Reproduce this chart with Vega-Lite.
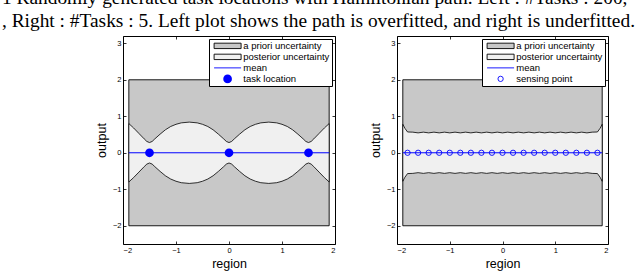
{
  "$schema": "https://vega.github.io/schema/vega-lite/v6.json",
  "padding": {"left": 1, "top": -13, "right": 0, "bottom": 0},
  "background": "white",
  "title": {
    "text": ["1  Randomly generated task locations with Hamiltonian path. Left : #Tasks : 200,", ", Right : #Tasks : 5. Left plot shows the path is overfitted, and right is underfitted."],
    "anchor": "start",
    "frame": "bounds",
    "dx": -93,
    "font": "Liberation Serif",
    "fontSize": 19.4,
    "fontWeight": "normal",
    "color": "black",
    "lineHeight": 23,
    "offset": 4
  },
  "config": {
    "view": {"stroke": "black", "strokeWidth": 1},
    "axis": {
      "grid": false,
      "domain": false,
      "tickColor": "black",
      "tickSize": -3,
      "tickWidth": 0.8,
      "labelFont": "Liberation Sans",
      "labelFontSize": 7.5,
      "labelColor": "black",
      "labelPadding": 5,
      "titleFont": "Liberation Sans",
      "titleFontSize": 12.5,
      "titleFontWeight": "normal",
      "titleColor": "black",
      "titlePadding": 4
    },
    "legend": {
      "title": null,
      "orient": "top-right",
      "offset": 3,
      "padding": 2,
      "fillColor": "white",
      "strokeColor": "black",
      "clipHeight": 9.75,
      "rowPadding": 0,
      "labelFont": "Liberation Sans",
      "labelFontSize": 9.5,
      "labelColor": "black",
      "labelOffset": 1.7,
      "symbolOffset": 2.6,
      "symbolStrokeWidth": 0.9
    }
  },
  "datasets": {
    "priorL": [
      {"x": -1.89, "lo": -2, "hi": 2, "series": "a priori uncertainty"},
      {"x": 1.89, "lo": -2, "hi": 2, "series": "a priori uncertainty"}
    ],
    "postL": [
      {"x": -1.89, "lo": -0.80, "hi": 0.80, "series": "posterior uncertainty"},
      {"x": -1.8, "lo": -0.68, "hi": 0.68, "series": "posterior uncertainty"},
      {"x": -1.7, "lo": -0.53, "hi": 0.53, "series": "posterior uncertainty"},
      {"x": -1.6, "lo": -0.38, "hi": 0.38, "series": "posterior uncertainty"},
      {"x": -1.55, "lo": -0.31, "hi": 0.31, "series": "posterior uncertainty"},
      {"x": -1.5, "lo": -0.28, "hi": 0.28, "series": "posterior uncertainty"},
      {"x": -1.45, "lo": -0.31, "hi": 0.31, "series": "posterior uncertainty"},
      {"x": -1.4, "lo": -0.38, "hi": 0.38, "series": "posterior uncertainty"},
      {"x": -1.3, "lo": -0.51, "hi": 0.51, "series": "posterior uncertainty"},
      {"x": -1.2, "lo": -0.63, "hi": 0.63, "series": "posterior uncertainty"},
      {"x": -1.1, "lo": -0.72, "hi": 0.72, "series": "posterior uncertainty"},
      {"x": -1.0, "lo": -0.78, "hi": 0.78, "series": "posterior uncertainty"},
      {"x": -0.9, "lo": -0.82, "hi": 0.82, "series": "posterior uncertainty"},
      {"x": -0.75, "lo": -0.84, "hi": 0.84, "series": "posterior uncertainty"},
      {"x": -0.6, "lo": -0.82, "hi": 0.82, "series": "posterior uncertainty"},
      {"x": -0.5, "lo": -0.78, "hi": 0.78, "series": "posterior uncertainty"},
      {"x": -0.4, "lo": -0.72, "hi": 0.72, "series": "posterior uncertainty"},
      {"x": -0.3, "lo": -0.63, "hi": 0.63, "series": "posterior uncertainty"},
      {"x": -0.2, "lo": -0.51, "hi": 0.51, "series": "posterior uncertainty"},
      {"x": -0.1, "lo": -0.38, "hi": 0.38, "series": "posterior uncertainty"},
      {"x": -0.05, "lo": -0.31, "hi": 0.31, "series": "posterior uncertainty"},
      {"x": 0, "lo": -0.28, "hi": 0.28, "series": "posterior uncertainty"},
      {"x": 0.05, "lo": -0.31, "hi": 0.31, "series": "posterior uncertainty"},
      {"x": 0.1, "lo": -0.38, "hi": 0.38, "series": "posterior uncertainty"},
      {"x": 0.2, "lo": -0.51, "hi": 0.51, "series": "posterior uncertainty"},
      {"x": 0.3, "lo": -0.63, "hi": 0.63, "series": "posterior uncertainty"},
      {"x": 0.4, "lo": -0.72, "hi": 0.72, "series": "posterior uncertainty"},
      {"x": 0.5, "lo": -0.78, "hi": 0.78, "series": "posterior uncertainty"},
      {"x": 0.6, "lo": -0.82, "hi": 0.82, "series": "posterior uncertainty"},
      {"x": 0.75, "lo": -0.84, "hi": 0.84, "series": "posterior uncertainty"},
      {"x": 0.9, "lo": -0.82, "hi": 0.82, "series": "posterior uncertainty"},
      {"x": 1.0, "lo": -0.78, "hi": 0.78, "series": "posterior uncertainty"},
      {"x": 1.1, "lo": -0.72, "hi": 0.72, "series": "posterior uncertainty"},
      {"x": 1.2, "lo": -0.63, "hi": 0.63, "series": "posterior uncertainty"},
      {"x": 1.3, "lo": -0.51, "hi": 0.51, "series": "posterior uncertainty"},
      {"x": 1.4, "lo": -0.38, "hi": 0.38, "series": "posterior uncertainty"},
      {"x": 1.45, "lo": -0.31, "hi": 0.31, "series": "posterior uncertainty"},
      {"x": 1.5, "lo": -0.28, "hi": 0.28, "series": "posterior uncertainty"},
      {"x": 1.55, "lo": -0.31, "hi": 0.31, "series": "posterior uncertainty"},
      {"x": 1.6, "lo": -0.38, "hi": 0.38, "series": "posterior uncertainty"},
      {"x": 1.7, "lo": -0.53, "hi": 0.53, "series": "posterior uncertainty"},
      {"x": 1.8, "lo": -0.68, "hi": 0.68, "series": "posterior uncertainty"},
      {"x": 1.89, "lo": -0.80, "hi": 0.80, "series": "posterior uncertainty"}
    ],
    "meanL": [
      {"x": -1.89, "y": 0, "series": "mean"},
      {"x": 1.89, "y": 0, "series": "mean"}
    ],
    "tasks": [
      {"x": -1.5, "y": 0, "series": "task location"},
      {"x": 0, "y": 0, "series": "task location"},
      {"x": 1.5, "y": 0, "series": "task location"}
    ],
    "priorR": [
      {"x": -1.89, "lo": -2, "hi": 2, "series": "a priori uncertainty"},
      {"x": 1.89, "lo": -2, "hi": 2, "series": "a priori uncertainty"}
    ],
    "postR": [
      {"x": -1.89, "lo": -0.78, "hi": 0.78, "series": "posterior uncertainty"},
      {"x": -1.85, "lo": -0.67, "hi": 0.67, "series": "posterior uncertainty"},
      {"x": -1.8, "lo": -0.57, "hi": 0.57, "series": "posterior uncertainty"},
      {"x": -1.7, "lo": -0.565, "hi": 0.565, "series": "posterior uncertainty"},
      {"x": -1.6, "lo": -0.545, "hi": 0.545, "series": "posterior uncertainty"},
      {"x": -1.5, "lo": -0.565, "hi": 0.565, "series": "posterior uncertainty"},
      {"x": -1.4, "lo": -0.545, "hi": 0.545, "series": "posterior uncertainty"},
      {"x": -1.3, "lo": -0.565, "hi": 0.565, "series": "posterior uncertainty"},
      {"x": -1.2, "lo": -0.545, "hi": 0.545, "series": "posterior uncertainty"},
      {"x": -1.1, "lo": -0.565, "hi": 0.565, "series": "posterior uncertainty"},
      {"x": -1.0, "lo": -0.545, "hi": 0.545, "series": "posterior uncertainty"},
      {"x": -0.9, "lo": -0.565, "hi": 0.565, "series": "posterior uncertainty"},
      {"x": -0.8, "lo": -0.545, "hi": 0.545, "series": "posterior uncertainty"},
      {"x": -0.7, "lo": -0.565, "hi": 0.565, "series": "posterior uncertainty"},
      {"x": -0.6, "lo": -0.545, "hi": 0.545, "series": "posterior uncertainty"},
      {"x": -0.5, "lo": -0.565, "hi": 0.565, "series": "posterior uncertainty"},
      {"x": -0.4, "lo": -0.545, "hi": 0.545, "series": "posterior uncertainty"},
      {"x": -0.3, "lo": -0.565, "hi": 0.565, "series": "posterior uncertainty"},
      {"x": -0.2, "lo": -0.545, "hi": 0.545, "series": "posterior uncertainty"},
      {"x": -0.1, "lo": -0.565, "hi": 0.565, "series": "posterior uncertainty"},
      {"x": 0, "lo": -0.545, "hi": 0.545, "series": "posterior uncertainty"},
      {"x": 0.1, "lo": -0.565, "hi": 0.565, "series": "posterior uncertainty"},
      {"x": 0.2, "lo": -0.545, "hi": 0.545, "series": "posterior uncertainty"},
      {"x": 0.3, "lo": -0.565, "hi": 0.565, "series": "posterior uncertainty"},
      {"x": 0.4, "lo": -0.545, "hi": 0.545, "series": "posterior uncertainty"},
      {"x": 0.5, "lo": -0.565, "hi": 0.565, "series": "posterior uncertainty"},
      {"x": 0.6, "lo": -0.545, "hi": 0.545, "series": "posterior uncertainty"},
      {"x": 0.7, "lo": -0.565, "hi": 0.565, "series": "posterior uncertainty"},
      {"x": 0.8, "lo": -0.545, "hi": 0.545, "series": "posterior uncertainty"},
      {"x": 0.9, "lo": -0.565, "hi": 0.565, "series": "posterior uncertainty"},
      {"x": 1.0, "lo": -0.545, "hi": 0.545, "series": "posterior uncertainty"},
      {"x": 1.1, "lo": -0.565, "hi": 0.565, "series": "posterior uncertainty"},
      {"x": 1.2, "lo": -0.545, "hi": 0.545, "series": "posterior uncertainty"},
      {"x": 1.3, "lo": -0.565, "hi": 0.565, "series": "posterior uncertainty"},
      {"x": 1.4, "lo": -0.545, "hi": 0.545, "series": "posterior uncertainty"},
      {"x": 1.5, "lo": -0.565, "hi": 0.565, "series": "posterior uncertainty"},
      {"x": 1.6, "lo": -0.545, "hi": 0.545, "series": "posterior uncertainty"},
      {"x": 1.7, "lo": -0.565, "hi": 0.565, "series": "posterior uncertainty"},
      {"x": 1.8, "lo": -0.57, "hi": 0.57, "series": "posterior uncertainty"},
      {"x": 1.85, "lo": -0.67, "hi": 0.67, "series": "posterior uncertainty"},
      {"x": 1.89, "lo": -0.78, "hi": 0.78, "series": "posterior uncertainty"}
    ],
    "meanR": [
      {"x": -1.89, "y": 0, "series": "mean"},
      {"x": 1.89, "y": 0, "series": "mean"}
    ],
    "sensing": [
      {"x": -1.8, "y": 0, "series": "sensing point"},
      {"x": -1.6, "y": 0, "series": "sensing point"},
      {"x": -1.4, "y": 0, "series": "sensing point"},
      {"x": -1.2, "y": 0, "series": "sensing point"},
      {"x": -1.0, "y": 0, "series": "sensing point"},
      {"x": -0.8, "y": 0, "series": "sensing point"},
      {"x": -0.6, "y": 0, "series": "sensing point"},
      {"x": -0.4, "y": 0, "series": "sensing point"},
      {"x": -0.2, "y": 0, "series": "sensing point"},
      {"x": 0, "y": 0, "series": "sensing point"},
      {"x": 0.2, "y": 0, "series": "sensing point"},
      {"x": 0.4, "y": 0, "series": "sensing point"},
      {"x": 0.6, "y": 0, "series": "sensing point"},
      {"x": 0.8, "y": 0, "series": "sensing point"},
      {"x": 1.0, "y": 0, "series": "sensing point"},
      {"x": 1.2, "y": 0, "series": "sensing point"},
      {"x": 1.4, "y": 0, "series": "sensing point"},
      {"x": 1.6, "y": 0, "series": "sensing point"},
      {"x": 1.8, "y": 0, "series": "sensing point"}
    ]
  },
  "spacing": 32,
  "resolve": {"scale": {"fill": "independent", "stroke": "independent", "shape": "independent", "size": "independent"}, "legend": {"fill": "independent", "stroke": "independent", "shape": "independent", "size": "independent"}},
  "hconcat": [
    {
      "width": 212,
      "height": 208,
      "resolve": {"axis": {"x": "independent", "y": "independent"}},
      "layer": [
        {
          "data": {"name": "priorL"},
          "mark": {"type": "area", "strokeWidth": 0.9, "fillOpacity": 1},
          "encoding": {
            "x": {"field": "x", "type": "quantitative", "scale": {"domain": [-2, 2], "nice": false}, "axis": {"orient": "bottom", "values": [-2, -1, 0, 1, 2], "title": "region"}},
            "y": {"field": "lo", "type": "quantitative", "scale": {"domain": [-2.5, 3.2], "nice": false, "zero": false}, "axis": {"orient": "left", "values": [-2, -1, 0, 1, 2, 3], "title": "output"}},
            "y2": {"field": "hi"},
            "fill": {"field": "series", "type": "nominal"},
            "stroke": {"field": "series", "type": "nominal"}
          }
        },
        {
          "data": {"name": "postL"},
          "mark": {"type": "area", "strokeWidth": 0.8, "fillOpacity": 1},
          "encoding": {
            "x": {"field": "x", "type": "quantitative", "axis": {"orient": "top", "values": [-2, -1, 0, 1, 2], "labels": false, "title": null}},
            "y": {"field": "lo", "type": "quantitative", "axis": {"orient": "right", "values": [-2, -1, 0, 1, 2, 3], "labels": false, "title": null}},
            "y2": {"field": "hi"},
            "fill": {"field": "series", "type": "nominal"},
            "stroke": {"field": "series", "type": "nominal"}
          }
        },
        {
          "data": {"name": "meanL"},
          "mark": {"type": "line", "strokeWidth": 1},
          "encoding": {
            "x": {"field": "x", "type": "quantitative", "axis": null},
            "y": {"field": "y", "type": "quantitative", "axis": null},
            "stroke": {"field": "series", "type": "nominal"}
          }
        },
        {
          "data": {"name": "tasks"},
          "mark": {"type": "point", "filled": true, "opacity": 1, "strokeWidth": 0.9},
          "encoding": {
            "x": {"field": "x", "type": "quantitative", "axis": null},
            "y": {"field": "y", "type": "quantitative", "axis": null},
            "fill": {"field": "series", "type": "nominal", "scale": {"domain": ["a priori uncertainty", "posterior uncertainty", "mean", "task location"], "range": ["#c8c8c8", "#f0f0f0", "#0000ff", "#0000ff"]}},
            "stroke": {"field": "series", "type": "nominal", "scale": {"domain": ["a priori uncertainty", "posterior uncertainty", "mean", "task location"], "range": ["black", "black", "#0000ff", "transparent"]}},
            "shape": {"field": "series", "type": "nominal", "scale": {"domain": ["a priori uncertainty", "posterior uncertainty", "mean", "task location"], "range": ["M-1,-0.2H1V0.2H-1Z", "M-1,-0.2H1V0.2H-1Z", "M-1,0H1", "circle"]}},
            "size": {"field": "series", "type": "nominal", "scale": {"type": "ordinal", "domain": ["a priori uncertainty", "posterior uncertainty", "mean", "task location"], "range": [729, 729, 729, 76]}}
          }
        }
      ]
    },
    {
      "width": 211,
      "height": 208,
      "resolve": {"axis": {"x": "independent", "y": "independent"}},
      "layer": [
        {
          "data": {"name": "priorR"},
          "mark": {"type": "area", "strokeWidth": 0.9, "fillOpacity": 1},
          "encoding": {
            "x": {"field": "x", "type": "quantitative", "scale": {"domain": [-2, 2], "nice": false}, "axis": {"orient": "bottom", "values": [-2, -1, 0, 1, 2], "title": "region"}},
            "y": {"field": "lo", "type": "quantitative", "scale": {"domain": [-2.5, 3.2], "nice": false, "zero": false}, "axis": {"orient": "left", "values": [-2, -1, 0, 1, 2, 3], "title": "output"}},
            "y2": {"field": "hi"},
            "fill": {"field": "series", "type": "nominal"},
            "stroke": {"field": "series", "type": "nominal"}
          }
        },
        {
          "data": {"name": "postR"},
          "mark": {"type": "area", "strokeWidth": 0.8, "fillOpacity": 1},
          "encoding": {
            "x": {"field": "x", "type": "quantitative", "axis": {"orient": "top", "values": [-2, -1, 0, 1, 2], "labels": false, "title": null}},
            "y": {"field": "lo", "type": "quantitative", "axis": {"orient": "right", "values": [-2, -1, 0, 1, 2, 3], "labels": false, "title": null}},
            "y2": {"field": "hi"},
            "fill": {"field": "series", "type": "nominal"},
            "stroke": {"field": "series", "type": "nominal"}
          }
        },
        {
          "data": {"name": "meanR"},
          "mark": {"type": "line", "strokeWidth": 1},
          "encoding": {
            "x": {"field": "x", "type": "quantitative", "axis": null},
            "y": {"field": "y", "type": "quantitative", "axis": null},
            "stroke": {"field": "series", "type": "nominal"}
          }
        },
        {
          "data": {"name": "sensing"},
          "mark": {"type": "point", "filled": true, "opacity": 1, "strokeWidth": 0.9},
          "encoding": {
            "x": {"field": "x", "type": "quantitative", "axis": null},
            "y": {"field": "y", "type": "quantitative", "axis": null},
            "fill": {"field": "series", "type": "nominal", "scale": {"domain": ["a priori uncertainty", "posterior uncertainty", "mean", "sensing point"], "range": ["#c8c8c8", "#f0f0f0", "#0000ff", "transparent"]}},
            "stroke": {"field": "series", "type": "nominal", "scale": {"domain": ["a priori uncertainty", "posterior uncertainty", "mean", "sensing point"], "range": ["black", "black", "#0000ff", "#0000ff"]}},
            "shape": {"field": "series", "type": "nominal", "scale": {"domain": ["a priori uncertainty", "posterior uncertainty", "mean", "sensing point"], "range": ["M-1,-0.2H1V0.2H-1Z", "M-1,-0.2H1V0.2H-1Z", "M-1,0H1", "circle"]}},
            "size": {"field": "series", "type": "nominal", "scale": {"type": "ordinal", "domain": ["a priori uncertainty", "posterior uncertainty", "mean", "sensing point"], "range": [729, 729, 729, 28]}}
          }
        }
      ]
    }
  ]
}
